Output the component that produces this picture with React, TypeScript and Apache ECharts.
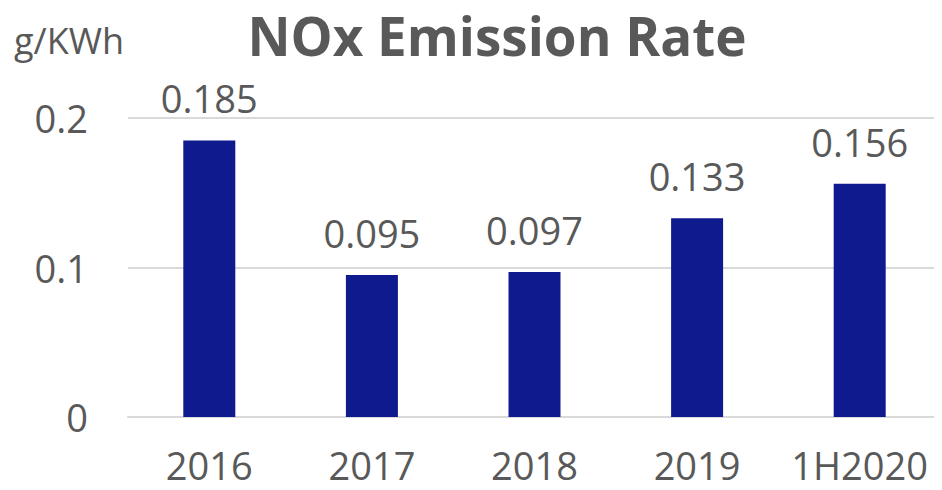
import React, { useEffect, useRef } from "react";
import * as echarts from "echarts";

const categories = ["2016", "2017", "2018", "2019", "1H2020"];
const values = [0.185, 0.095, 0.097, 0.133, 0.156];
const yTicks = [0, 0.1, 0.2];
const titleText = "NOx Emission Rate";
const unitText = "g/KWh";

const FONT = "'Open Sans', 'Noto Sans', sans-serif";
const TEXT = "#595959";

export default function App() {
  const ref = useRef<HTMLDivElement>(null);
  useEffect(() => {
    if (!ref.current) return;
    const chart = echarts.init(ref.current, null, { renderer: "svg" });
    chart.setOption({
      animation: false,
      backgroundColor: "#ffffff",
      graphic: [
        {
          type: "text",
          style: {
            text: titleText,
            x: 497,
            y: 35,
            fill: TEXT,
            font: `bold 53px ${FONT}`,
            lineHeight: 60,
            textAlign: "center",
            textVerticalAlign: "middle",
          },
        },
        {
          type: "text",
          style: {
            text: unitText,
            x: 14,
            y: 40,
            fill: TEXT,
            font: `36px ${FONT}`,
            textAlign: "left",
            textVerticalAlign: "middle",
          },
        },
      ],
      grid: { left: 128, right: 1, top: 118, bottom: 73, containLabel: false },
      xAxis: {
        type: "category",
        data: categories,
        axisLine: { show: true, lineStyle: { color: "#D9D9D9", width: 2 } },
        axisTick: { show: false },
        axisLabel: { color: TEXT, fontSize: 38, fontFamily: FONT, margin: 29, interval: 0 },
      },
      yAxis: {
        type: "value",
        min: yTicks[0],
        max: yTicks[yTicks.length - 1],
        interval: 0.1,
        axisLine: { show: false },
        axisTick: { show: false },
        splitLine: { lineStyle: { color: "#D9D9D9", width: 2 } },
        axisLabel: { color: TEXT, fontSize: 38, fontFamily: FONT, margin: 40 },
      },
      series: [
        {
          type: "bar",
          data: values,
          barWidth: 52,
          itemStyle: { color: "#101A8F" },
          label: {
            show: true,
            position: "top",
            distance: 23,
            color: TEXT,
            fontSize: 38,
            fontFamily: FONT,
            formatter: (p: any) => p.value.toFixed(3),
          },
        },
      ],
    });
    return () => chart.dispose();
  }, []);
  return <div ref={ref} style={{ width: 942, height: 490, margin: -8 }} />;
}
